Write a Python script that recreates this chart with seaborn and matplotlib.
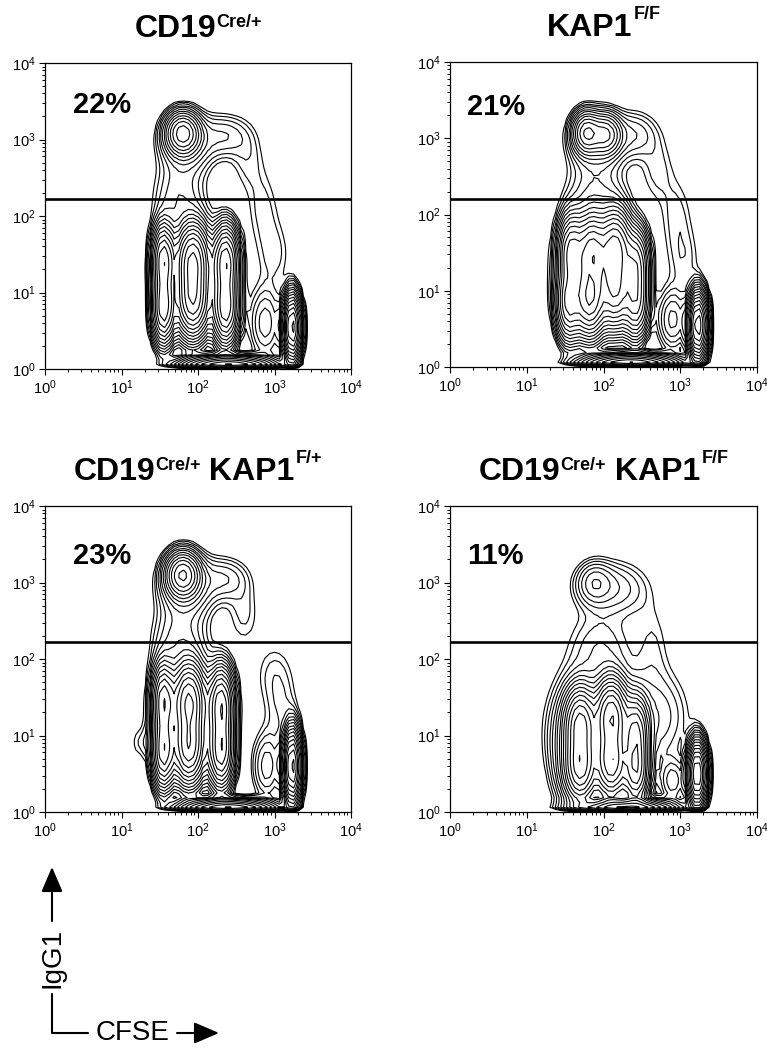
import numpy as np
import matplotlib
matplotlib.use("Agg")
import matplotlib.pyplot as plt
from matplotlib.patches import FancyArrowPatch
from matplotlib.lines import Line2D
import seaborn as sns

sns.set_style("ticks")
plt.rcParams['font.family'] = ['Liberation Sans', 'DejaVu Sans']
plt.rcParams['text.color'] = 'black'
plt.rcParams['xtick.color'] = 'black'
plt.rcParams['ytick.color'] = 'black'
plt.rcParams['mathtext.fontset'] = 'custom'
plt.rcParams['mathtext.rm'] = 'Liberation Sans'
plt.rcParams['mathtext.bf'] = 'Liberation Sans:bold'

# populations, in log10 units:
# (CFSE centre, IgG1 centre, CFSE spread, IgG1 spread, peak height)
pops_cd19 = [(1.80, 3.08, 0.12, 0.15, 0.30), (1.85, 2.95, 0.22, 0.25, 0.05),
             (2.35, 3.05, 0.20, 0.18, 0.03), (1.75, 2.25, 0.22, 0.30, 0.03),
             (2.65, 2.75, 0.15, 0.30, 0.015), (2.85, 2.10, 0.15, 0.35, 0.015),
             (3.00, 1.50, 0.15, 0.30, 0.015),
             (1.55, 0.80, 0.08, 0.25, 0.45), (1.55, 1.42, 0.08, 0.25, 0.45),
             (1.93, 0.90, 0.11, 0.25, 0.60), (1.93, 1.42, 0.11, 0.25, 0.65),
             (2.36, 0.80, 0.09, 0.25, 0.45), (2.36, 1.40, 0.09, 0.25, 0.45),
             (1.95, 1.20, 0.30, 0.42, 0.05),
             (2.88, 0.60, 0.13, 0.30, 0.04), (3.23, 0.55, 0.06, 0.22, 1.00),
             (2.40, 0.05, 0.32, 0.06, 0.50)]
pops_kap1 = [(1.78, 3.07, 0.10, 0.15, 0.25), (2.03, 3.05, 0.11, 0.15, 0.18),
             (1.90, 2.95, 0.22, 0.25, 0.05), (2.40, 3.05, 0.20, 0.20, 0.03),
             (1.90, 2.25, 0.25, 0.30, 0.03),
             (2.70, 2.60, 0.15, 0.30, 0.015), (2.95, 2.00, 0.15, 0.35, 0.015),
             (3.05, 1.40, 0.15, 0.30, 0.015),
             (1.55, 0.85, 0.09, 0.26, 0.40), (1.58, 1.50, 0.09, 0.26, 0.40),
             (1.82, 0.90, 0.11, 0.26, 0.65), (1.85, 1.50, 0.11, 0.26, 0.55),
             (2.15, 1.00, 0.11, 0.26, 0.45), (2.15, 1.55, 0.11, 0.26, 0.55),
             (2.42, 0.85, 0.09, 0.25, 0.30), (2.42, 1.35, 0.09, 0.25, 0.30),
             (1.90, 1.30, 0.32, 0.45, 0.05), (2.90, 0.62, 0.12, 0.25, 0.05),
             (3.23, 0.55, 0.065, 0.22, 1.10), (2.35, 0.05, 0.33, 0.06, 0.50)]
pops_het = [(1.80, 3.10, 0.12, 0.16, 0.35), (1.85, 2.95, 0.22, 0.26, 0.06),
            (2.35, 3.05, 0.20, 0.18, 0.03), (1.75, 2.25, 0.22, 0.30, 0.035),
            (2.60, 2.60, 0.15, 0.30, 0.015), (3.00, 1.80, 0.18, 0.30, 0.015),
            (3.10, 1.30, 0.15, 0.30, 0.015),
            (1.55, 0.80, 0.08, 0.26, 0.45), (1.55, 1.45, 0.08, 0.26, 0.45),
            (1.88, 0.85, 0.11, 0.26, 0.60), (1.88, 1.45, 0.11, 0.26, 0.65),
            (2.30, 0.80, 0.09, 0.26, 0.45), (2.30, 1.40, 0.09, 0.26, 0.45),
            (1.90, 1.30, 0.30, 0.45, 0.05),
            (1.25, 0.90, 0.10, 0.15, 0.012),
            (2.90, 0.60, 0.12, 0.28, 0.04), (3.23, 0.60, 0.06, 0.25, 1.00),
            (2.40, 0.05, 0.32, 0.06, 0.50)]
pops_ko = [(1.88, 3.00, 0.13, 0.16, 0.035), (1.98, 2.95, 0.25, 0.22, 0.03),
           (2.35, 2.90, 0.22, 0.25, 0.014), (1.95, 2.20, 0.28, 0.30, 0.02),
           (2.65, 2.20, 0.15, 0.40, 0.012),
           (1.70, 0.60, 0.11, 0.25, 0.55), (1.70, 1.15, 0.11, 0.25, 0.50),
           (2.10, 0.65, 0.11, 0.25, 0.60), (2.10, 1.25, 0.11, 0.25, 0.60),
           (2.42, 0.55, 0.09, 0.25, 0.45), (2.42, 1.05, 0.09, 0.25, 0.35),
           (1.55, 0.80, 0.15, 0.45, 0.05), (1.95, 1.10, 0.38, 0.50, 0.05),
           (2.75, 1.25, 0.25, 0.40, 0.025), (2.90, 0.40, 0.10, 0.18, 0.04),
           (3.22, 0.50, 0.065, 0.22, 0.90), (2.30, 0.05, 0.33, 0.06, 0.50)]

panel_pops = [pops_cd19, pops_kap1, pops_het, pops_ko]
percent_labels = ["22%", "21%", "23%", "11%"]
gate_values = [167, 160, 167, 168]
titles = [[("CD19", False), ("Cre/+", True)],
          [("KAP1", False), ("F/F", True)],
          [("CD19", False), ("Cre/+", True), (" KAP1", False), ("F/+", True)],
          [("CD19", False), ("Cre/+", True), (" KAP1", False), ("F/F", True)]]

W, H = 767, 1048
fig = plt.figure(figsize=(W / 100, H / 100), dpi=100)


def fpos(x, y):
    return x / W, 1 - y / H


# axes boxes in pixels: left, top, width, height
boxes = [(45, 63, 306, 306), (450, 62, 307, 305), (45, 506, 306, 306), (450, 506, 307, 306)]
pct_pos = [(0.09, 0.863), (0.055, 0.853), (0.09, 0.837), (0.055, 0.837)]

grid = np.arange(0, 4.001, 0.0625)
GX, GY = np.meshgrid(grid, grid)
levels = np.geomspace(0.01, 1.2, 17)

for i, pops in enumerate(panel_pops):
    l, t, w, h = boxes[i]
    ax = fig.add_axes([l / W, 1 - (t + h) / H, w / W, h / H])
    z = np.zeros_like(GX)
    for cx, cy, sx, sy, a in pops:
        z += a * np.exp(-0.5 * ((GX - cx) / sx) ** 2 - 0.5 * ((GY - cy) / sy) ** 2)
    z[0, :] = 0
    ax.set_xscale("log")
    ax.set_yscale("log")
    ax.contour(10 ** GX, 10 ** GY, z, levels=levels, colors="black", linewidths=0.8)
    ax.axhline(gate_values[i], color="black", lw=1.9)
    ax.set_xlim(1, 1e4)
    ax.set_ylim(1, 1e4)
    for s in ax.spines.values():
        s.set_linewidth(0.9)
        s.set_color("black")
    ax.tick_params(which="major", direction="out", length=4, width=0.8, labelsize=10.5, pad=3,
                   top=False, right=False)
    ax.tick_params(which="minor", direction="out", length=2.2, width=0.7, top=False, right=False)
    ax.text(pct_pos[i][0], pct_pos[i][1], percent_labels[i], transform=ax.transAxes,
            fontsize=21, fontweight="bold", va="center", ha="left")

    # title with superscripts, chained piece by piece
    first = fig.text(*fpos(l, t - 26), titles[i][0][0], fontsize=23, fontweight="bold",
                     va="baseline", ha="left")
    pieces = [first]
    base = first
    prev = first
    for text, sup in titles[i][1:]:
        if sup:
            dy = 5 if "F" in text else 0
            dx = 1 if "F" in text else 0
            a = ax.annotate(text, xy=(1, 1), xycoords=prev, xytext=(dx, dy),
                            textcoords="offset points", fontsize=13, fontweight="bold",
                            va="top", ha="left", annotation_clip=False)
        else:
            a = ax.annotate(text, xy=(1, 0), xycoords=(prev, base), fontsize=23,
                            fontweight="bold", va="bottom", ha="left", annotation_clip=False)
            base = a
        pieces.append(a)
        prev = a
    fig.canvas.draw()
    r = fig.canvas.get_renderer()
    x0 = min(p.get_window_extent(r).x0 for p in pieces)
    x1 = max(p.get_window_extent(r).x1 for p in pieces)
    shift = (l + w / 2) - (x0 + x1) / 2
    px, py = first.get_position()
    first.set_position((px + shift / W, py))

# IgG1 / CFSE key
fig.add_artist(Line2D([fpos(52, 0)[0], fpos(52, 0)[0], fpos(88, 0)[0]],
                      [fpos(0, 994)[1], fpos(0, 1033)[1], fpos(0, 1033)[1]],
                      color="black", lw=1.5, transform=fig.transFigure))
for a_from, a_to in [((52, 921), (52, 867)), ((177, 1033), (219, 1033))]:
    fig.add_artist(FancyArrowPatch(fpos(*a_from), fpos(*a_to), transform=fig.transFigure,
                                   arrowstyle="-|>,head_length=1.4,head_width=0.6",
                                   mutation_scale=11, color="black", lw=1.5,
                                   shrinkA=0, shrinkB=0))
fig.text(*fpos(52, 958), "IgG1", rotation=90, fontsize=20, ha="center", va="center")
fig.text(*fpos(96, 1033), "CFSE", fontsize=20, ha="left", va="center")

fig.savefig("out.png", dpi=100)
